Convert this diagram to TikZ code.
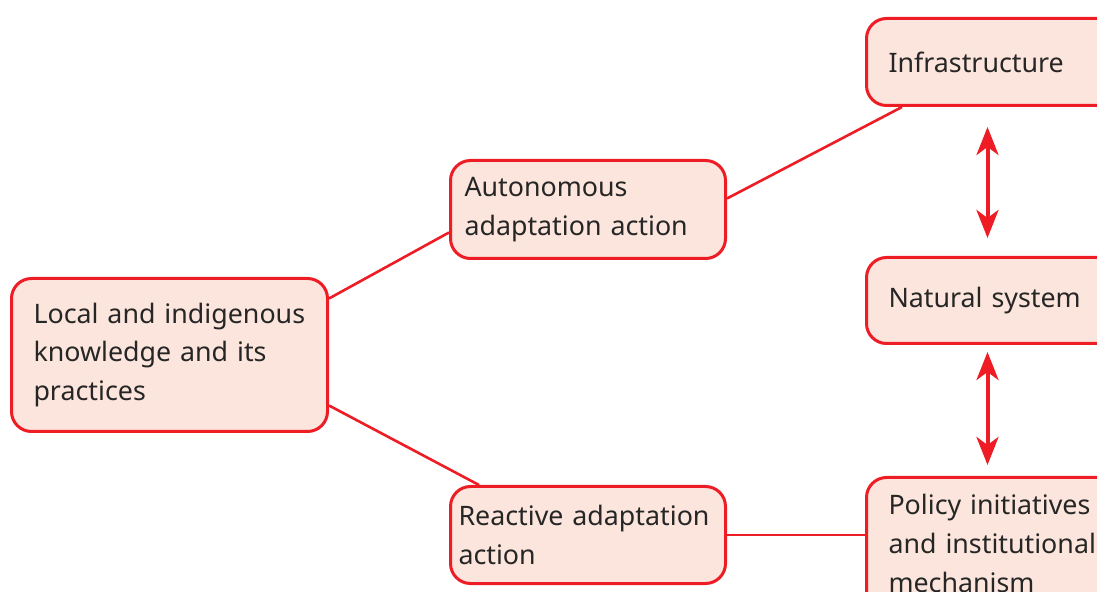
\documentclass[tikz,border=0pt]{standalone}
\usepackage{fontspec}
\setmainfont{Noto Sans}
\usetikzlibrary{positioning,arrows.meta}
\definecolor{boxred}{HTML}{EE1C25}
\definecolor{boxfill}{HTML}{FCE5DC}
\definecolor{boxtext}{HTML}{262626}

\begin{document}
\begin{tikzpicture}[x=0.5pt,y=-0.5pt,
    box/.style={draw=boxred,fill=boxfill,line width=1.5pt,rounded corners=10pt,anchor=north west,align=left,text=boxtext,inner xsep=11pt,font=\fontsize{13.4}{19.3}\selectfont},
    link/.style={boxred,line width=1.3pt},
    both/.style={boxred,line width=2pt,{Stealth[length=14pt,width=11pt,inset=4pt]}-{Stealth[length=14pt,width=11pt,inset=4pt]}}]
        \useasboundingbox (0,0) rectangle (1097,592);
        % left and middle column
        \node[box,text width=136pt,minimum height=76.5pt] (local) at (10,277) {Local and indigenous\\knowledge and its\\practices};
        \node[box,inner xsep=7pt,text width=123.5pt,minimum height=49pt] (auto) at (449,159) {Autonomous\\adaptation action};
        \node[box,inner xsep=4pt,text width=129.5pt,minimum height=48.5pt] (react) at (449,485) {Reactive adaptation\\action};
        % right column
        \node[box,text width=110pt,minimum height=43.5pt] (infra) at (865,17) {Infrastructure};
        \node[box,text width=110pt,minimum height=43pt] (natural) at (865,256) {Natural system};
        \node[box,text width=110pt,minimum height=66pt] (policy) at (865,476) {Policy initiatives\\and institutional\\mechanism};
        \draw[link] ([yshift=28.25pt]local.east) -- ([yshift=-11.5pt]auto.west);
        \draw[link] ([yshift=-25.25pt]local.east) -- ([xshift=15pt]react.north west);
        \draw[link] ([yshift=5.5pt]auto.east) -- ([xshift=18.5pt]infra.south west);
        \draw[link] (react.east) -- (react.east -| policy.west);
        \draw[both,shorten <=10pt,shorten >=9pt] ([xshift=-5.5pt]infra.south) -- ([xshift=-5.5pt]natural.north);
        \draw[both,shorten <=3.5pt,shorten >=5.5pt] ([xshift=-5.5pt]natural.south) -- ([xshift=-5.5pt]policy.north);
    \end{tikzpicture}
\end{document}
